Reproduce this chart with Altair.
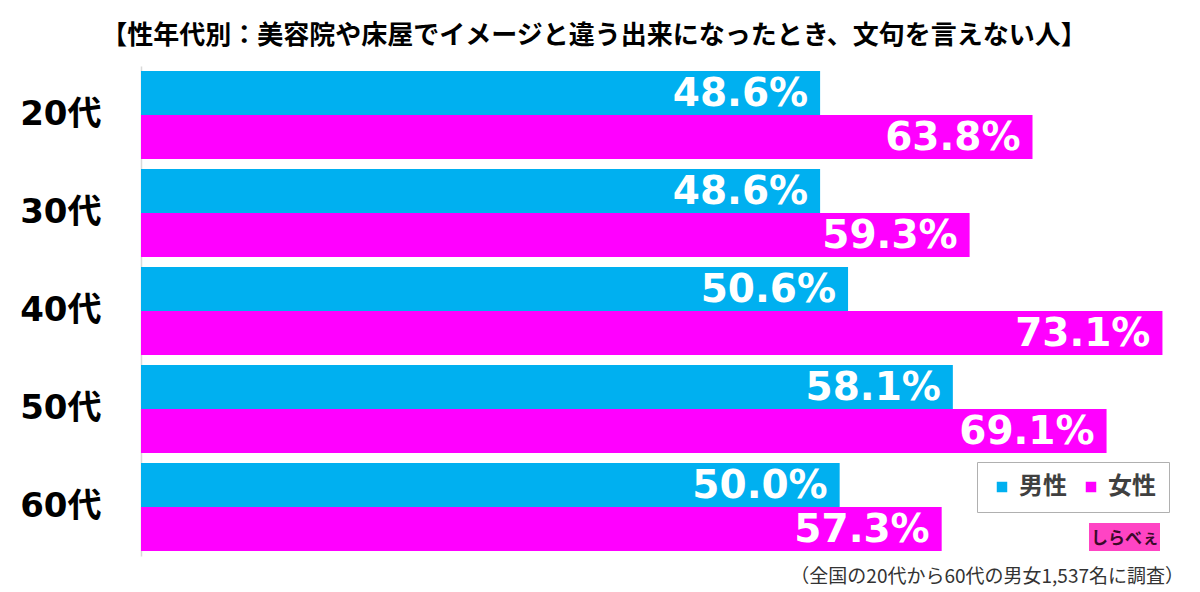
import altair as alt
import pandas as pd

ages = ["20代", "30代", "40代", "50代", "60代"]
series = ["男性", "女性"]
male = [48.6, 48.6, 50.6, 58.1, 50.0]
female = [63.8, 59.3, 73.1, 69.1, 57.3]
colors = ["#00B0F0", "#FF00FF"]
title_text = "【性年代別：美容院や床屋でイメージと違う出来になったとき、文句を言えない人】"
note_text = "（全国の20代から60代の男女1,537名に調査）"
logo_text = "しらべぇ"

rows = []
for a, m, f in zip(ages, male, female):
    rows.append({"age": a, "sex": "男性", "value": m, "label": f"{m:.1f}%"})
    rows.append({"age": a, "sex": "女性", "value": f, "label": f"{f:.1f}%"})
df = pd.DataFrame(rows)

jp = "Noto Sans CJK JP"
num = "DejaVu Sans, Noto Sans CJK JP"

y = alt.Y("age:N", sort=ages, title=None,
          scale=alt.Scale(paddingInner=10 / 98, paddingOuter=5 / 98),
          axis=alt.Axis(labelFont=num, labelFontSize=34, labelFontWeight="bold",
                        labelColor="#000000", labelPadding=40, ticks=False,
                        domainColor="#d9d9d9", domainWidth=1.5))
yoff = alt.YOffset("sex:N", sort=series, scale=alt.Scale(paddingInner=0, paddingOuter=0))
x = alt.X("value:Q", scale=alt.Scale(domain=[0, 75], nice=False, zero=True), axis=None)

base = alt.Chart(df)

bars = base.mark_bar(cornerRadius=0).encode(
    x=x, y=y, yOffset=yoff,
    color=alt.Color("sex:N", sort=series,
                    scale=alt.Scale(domain=series, range=colors),
                    legend=alt.Legend(title=None, orient="none", legendX=836, legendY=396,
                                      direction="horizontal", symbolType="square",
                                      symbolSize=110, symbolStrokeWidth=0,
                                      labelFont=jp, labelFontSize=24, labelFontWeight="bold",
                                      labelColor="#404040", labelOffset=5, columnPadding=12,
                                      padding=13, fillColor="#ffffff", strokeColor="#b0b0b0")),
)

labels = base.mark_text(align="right", baseline="middle", dx=-12, dy=1,
                        font=num, fontSize=39, fontWeight="bold", color="#ffffff").encode(
    x=x, y=y, yOffset=yoff, text="label:N"
)

note = alt.Chart(pd.DataFrame({"t": [note_text]})).mark_text(
    align="right", baseline="middle", font=jp, fontSize=19, color="#333333"
).encode(x=alt.value(1043), y=alt.value(511), text="t:N")

logo_bg = alt.Chart(pd.DataFrame({"t": [logo_text]})).mark_rect(color="#FF44C4").encode(
    x=alt.value(948), x2=alt.value(1019), y=alt.value(457), y2=alt.value(485)
)
logo = alt.Chart(pd.DataFrame({"t": [logo_text]})).mark_text(
    align="center", baseline="middle", font=jp, fontSize=17, fontWeight="bold", color="#3a0a2a"
).encode(x=alt.value(984), y=alt.value(473), text="t:N")

chart = alt.layer(bars, labels, note, logo_bg, logo).properties(
    width=1048, height=490,
    autosize="none",
    padding={"left": 141, "top": 66, "right": 11, "bottom": 36},
    title=alt.TitleParams(title_text, font=jp, fontSize=26, fontWeight="bold",
                          color="#000000", anchor="middle", dx=-71, offset=17),
    background="#ffffff",
).configure_view(stroke=None)

chart.save("out.html", embed_options={"renderer": "svg", "actions": False})
